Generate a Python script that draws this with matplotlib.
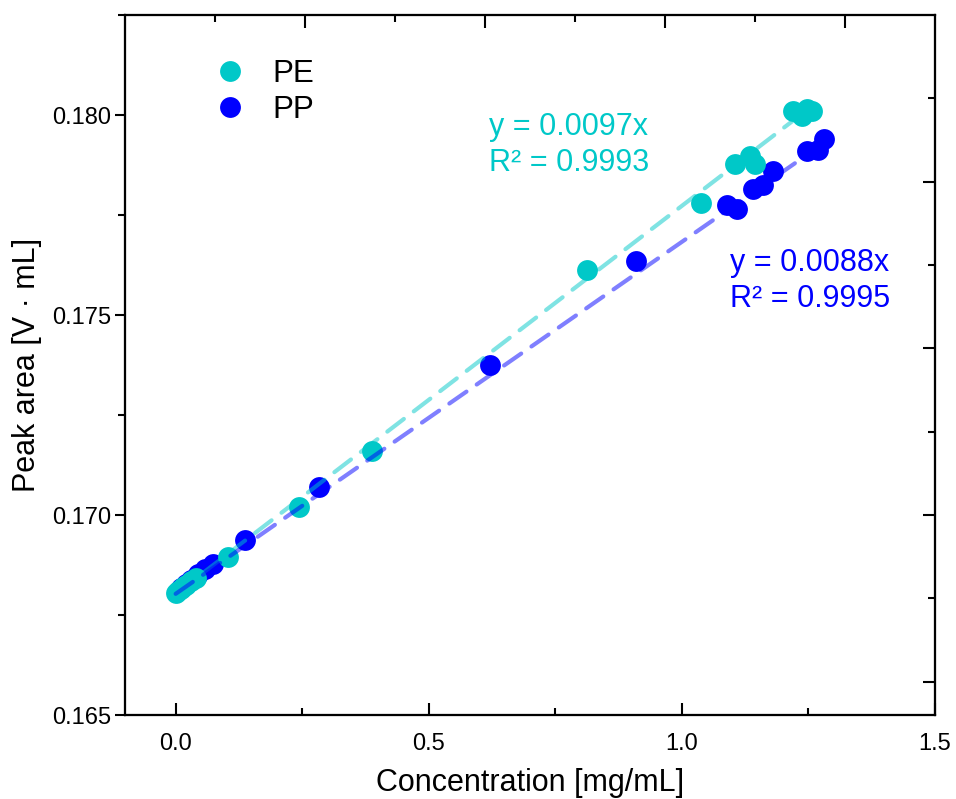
import numpy as np
import matplotlib
matplotlib.use("Agg")
import matplotlib.pyplot as plt
from matplotlib.ticker import MultipleLocator, FixedLocator

plt.rcParams["font.family"] = ["Liberation Sans", "DejaVu Sans"]

# ── data ──
pe_x = [0.000, 0.005, 0.010, 0.015, 0.020, 0.030, 0.041, 0.103, 0.243, 0.387,
        0.812, 1.038, 1.105, 1.134, 1.144, 1.219, 1.237, 1.247, 1.257]
pe_y = [0.16805, 0.16810, 0.16815, 0.16820, 0.16826, 0.16835, 0.16843, 0.16896,
        0.17021, 0.17161, 0.17612, 0.17780, 0.17877, 0.17897, 0.17877, 0.18010,
        0.17997, 0.18015, 0.18010]

pp_x = [0.010, 0.020, 0.030, 0.045, 0.058, 0.073, 0.136, 0.283, 0.621, 0.909,
        1.089, 1.109, 1.140, 1.160, 1.180, 1.247, 1.269, 1.281]
pp_y = [0.16818, 0.16828, 0.16838, 0.16852, 0.16865, 0.16878, 0.16938, 0.17071,
        0.17374, 0.17634, 0.17775, 0.17765, 0.17815, 0.17825, 0.17860, 0.17910,
        0.17912, 0.17940]

# linear fits as printed on the chart (intercept)
intercept = 0.16803
pe_slope, pe_r2 = 0.0097, 0.9993
pp_slope, pp_r2 = 0.0088, 0.9995
pe_fit_x = [0.0, 1.26]
pp_fit_x = [0.0, 1.28]

c_pe = "#00C8C8"
c_pp = "#0000FF"

fig = plt.figure(figsize=(9.56, 7.99), dpi=100)
ax = fig.add_axes([0.1308, 0.1051, 0.8473, 0.8761])

ax.plot(pp_x, pp_y, "o", color=c_pp, markersize=15, markeredgewidth=0, zorder=2, label="PP")
ax.plot(pe_x, pe_y, "o", color=c_pe, markersize=15, markeredgewidth=0, zorder=3, label="PE")

for fx, slope, col in [(pe_fit_x, pe_slope, c_pe), (pp_fit_x, pp_slope, c_pp)]:
    fx = np.array(fx)
    ax.plot(fx, intercept + slope * fx, color=col, alpha=0.5, linewidth=3,
            dashes=(5, 3), solid_capstyle="round", dash_capstyle="round", zorder=4)

ax.set_xlim(-0.1, 1.5)
ax.set_ylim(0.165, 0.1825)
ax.xaxis.set_major_locator(MultipleLocator(0.5))
ax.xaxis.set_minor_locator(MultipleLocator(0.25))
ax.yaxis.set_major_locator(MultipleLocator(0.005))
ax.yaxis.set_minor_locator(MultipleLocator(0.0025))
ax.xaxis.set_major_formatter(plt.FormatStrFormatter("%.1f"))
ax.yaxis.set_major_formatter(plt.FormatStrFormatter("%.3f"))

ax.tick_params(axis="x", which="major", direction="in", length=9, width=1.5, labelsize=17, pad=13)
ax.tick_params(axis="x", which="minor", direction="in", length=5, width=1.5)
ax.tick_params(axis="y", which="major", direction="out", length=7, width=1.5, labelsize=17, pad=3)
ax.tick_params(axis="y", which="minor", direction="out", length=5, width=1.5)
for s in ax.spines.values():
    s.set_linewidth(1.5)

ax.set_xlabel("Concentration [mg/mL]", fontsize=22, labelpad=9)
ax.set_ylabel("Peak area [V · mL]", fontsize=22, labelpad=7)

# top / right frame ticks (unlabelled)
axt = ax.twiny()
axt.set_xlim(0, 9)
axt.xaxis.set_major_locator(FixedLocator([2, 4, 6, 8]))
axt.xaxis.set_minor_locator(FixedLocator([1, 3, 5, 7]))
axt.tick_params(axis="x", which="major", direction="in", length=9, width=1.5, labeltop=False)
axt.tick_params(axis="x", which="minor", direction="in", length=5, width=1.5)
axr = ax.twinx()
axr.set_ylim(-0.4, 8.0)
axr.yaxis.set_major_locator(FixedLocator([0, 2, 4, 6]))
axr.yaxis.set_minor_locator(FixedLocator([1, 3, 5, 7]))
axr.tick_params(axis="y", which="major", direction="in", length=9, width=1.5, labelright=False)
axr.tick_params(axis="y", which="minor", direction="in", length=5, width=1.5)
for a in (axt, axr):
    for s in a.spines.values():
        s.set_linewidth(1.5)

# legend
h_pp, h_pe = ax.get_lines()[0], ax.get_lines()[1]
ax.legend([h_pe, h_pp], ["PE", "PP"], loc="upper left", bbox_to_anchor=(0.072, 0.978),
          frameon=False, fontsize=22.5, handletextpad=0.75, labelspacing=0.22,
          markerscale=1.0, handlelength=1.2)

ax.text(489 / 956, 1 - 145 / 799, f"y = {pe_slope}x\nR² = {pe_r2}", transform=fig.transFigure,
        color=c_pe, fontsize=22, ha="left", va="center", linespacing=1.3)
ax.text(730 / 956, 1 - 281 / 799, f"y = {pp_slope}x\nR² = {pp_r2}", transform=fig.transFigure,
        color=c_pp, fontsize=22, ha="left", va="center", linespacing=1.3)

fig.savefig("out.png", dpi=100)
